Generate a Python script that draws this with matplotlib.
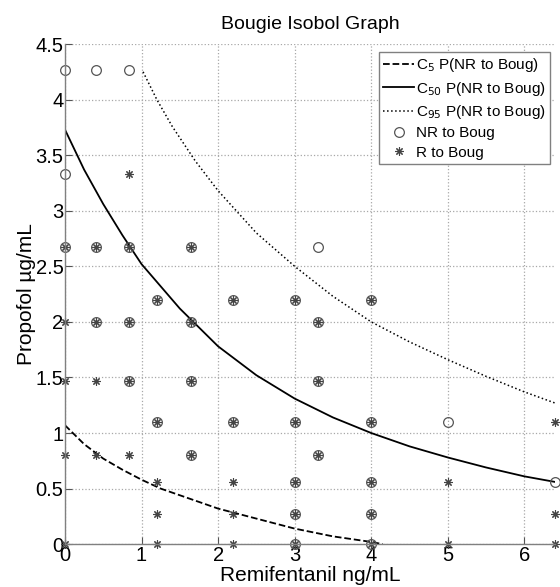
import numpy as np
import matplotlib
matplotlib.use('Agg')
import matplotlib.pyplot as plt
import matplotlib.ticker as mtick

plt.rcParams['font.family'] = ['Liberation Sans', 'DejaVu Sans']

# isobol curves
c5_x = [0, 0.25, 0.5, 0.75, 1.0, 1.25, 1.5, 1.75, 2.0, 2.5, 3.0, 3.5, 4.0, 4.15]
c5_y = [1.07, 0.9, 0.77, 0.67, 0.58, 0.5, 0.44, 0.38, 0.32, 0.23, 0.14, 0.07, 0.02, 0.0]

c50_x = [0, 0.25, 0.5, 0.75, 1.0, 1.5, 2.0, 2.5, 3.0, 3.5, 4.0, 4.5, 5.0, 5.5, 6.0, 6.4]
c50_y = [3.73, 3.37, 3.06, 2.78, 2.52, 2.12, 1.78, 1.52, 1.31, 1.14, 1.00, 0.88, 0.78, 0.69, 0.61, 0.56]

c95_x = [1.02, 1.2, 1.4, 1.7, 2.0, 2.5, 3.0, 3.5, 4.0, 4.5, 5.0, 5.5, 6.0, 6.4]
c95_y = [4.25, 4.0, 3.76, 3.45, 3.18, 2.8, 2.5, 2.23, 2.0, 1.82, 1.66, 1.51, 1.37, 1.27]

# observations
nr_x = [0, 0.4, 0.83, 0, 0, 0.4, 0.83, 1.65, 3.3, 1.2, 2.2, 3, 4, 0.4, 0.83, 1.65, 3.3,
        0.83, 1.65, 3.3, 1.2, 2.2, 3, 4, 5, 1.65, 3.3, 3, 4, 6.4, 3, 4, 3, 4]
nr_y = [4.27, 4.27, 4.27, 3.33, 2.67, 2.67, 2.67, 2.67, 2.67, 2.2, 2.2, 2.2, 2.2, 2.0, 2.0, 2.0, 2.0,
        1.47, 1.47, 1.47, 1.1, 1.1, 1.1, 1.1, 1.1, 0.8, 0.8, 0.56, 0.56, 0.56, 0.27, 0.27, 0, 0]

r_x = [0.83, 0, 0.4, 0.83, 1.65, 1.2, 2.2, 3, 4, 0, 0.4, 0.83, 1.65, 3.3,
       0, 0.4, 0.83, 1.65, 3.3, 1.2, 2.2, 3, 4, 6.4, 0, 0.4, 0.83, 1.65, 3.3,
       1.2, 2.2, 3, 4, 5, 1.2, 2.2, 3, 4, 6.4, 0, 1.2, 2.2, 3, 4, 5, 6.4]
r_y = [3.33, 2.67, 2.67, 2.67, 2.67, 2.2, 2.2, 2.2, 2.2, 2.0, 2.0, 2.0, 2.0, 2.0,
       1.47, 1.47, 1.47, 1.47, 1.47, 1.1, 1.1, 1.1, 1.1, 1.1, 0.8, 0.8, 0.8, 0.8, 0.8,
       0.56, 0.56, 0.56, 0.56, 0.56, 0.27, 0.27, 0.27, 0.27, 0.27, 0, 0, 0, 0, 0, 0, 0]

fig = plt.figure(figsize=(5.6, 5.87), dpi=100)
ax = fig.add_axes([0.116, 0.073, 0.875, 0.852])

ax.grid(True, linestyle=':', color='#a8a8a8', linewidth=0.9)
ax.set_axisbelow(True)

ax.plot(c5_x, c5_y, '--', color='black', lw=1.3, label='C$_{5}$ P(NR to Boug)')
ax.plot(c50_x, c50_y, '-', color='black', lw=1.3, label='C$_{50}$ P(NR to Boug)')
ax.plot(c95_x, c95_y, ':', color='black', lw=1.1, label='C$_{95}$ P(NR to Boug)')
ax.plot(nr_x, nr_y, 'o', mfc='none', mec='#555555', ms=7, mew=0.9, clip_on=False,
        label='NR to Boug')
ax.plot(r_x, r_y, linestyle='none', marker=(8, 2, 0), color='#444444', ms=6, mew=0.8,
        clip_on=False, label='R to Boug')

ax.set_xlim(0, 6.4)
ax.set_ylim(0, 4.5)
ax.set_xticks(np.arange(0, 7, 1))
ax.set_yticks(np.arange(0, 4.51, 0.5))
ax.yaxis.set_major_formatter(mtick.FormatStrFormatter('%g'))
ax.tick_params(direction='in', length=5, labelsize=14.5, color='#555555', pad=1)

for s in ['top', 'right']:
    ax.spines[s].set_visible(False)
for s in ['left', 'bottom']:
    ax.spines[s].set_color('#808080')
    ax.spines[s].set_linewidth(1.0)

ax.set_title('Bougie Isobol Graph', fontsize=14, pad=11)
ax.set_xlabel('Remifentanil ng/mL', fontsize=15, labelpad=1)
ax.set_ylabel('Propofol µg/mL', fontsize=15, labelpad=0)

leg = ax.legend(loc='upper right', fontsize=11, handlelength=2.0, handletextpad=0.1,
                borderpad=0.3, labelspacing=0.35, fancybox=False, framealpha=1,
                bbox_to_anchor=(1.005, 1.0))
leg.get_frame().set_edgecolor('#808080')
leg.get_frame().set_linewidth(1.0)

plt.savefig('out.png', dpi=100)
